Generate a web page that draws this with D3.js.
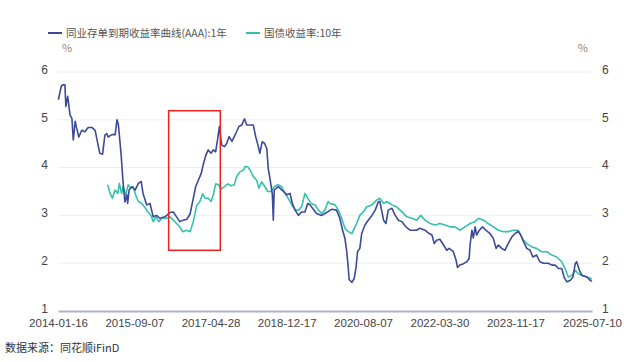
<!DOCTYPE html>
<html>
<head>
<meta charset="utf-8">
<script src="https://cdn.jsdelivr.net/npm/d3@7"></script>
<style>
  body { margin: 0; background: #fff; }
  svg { display: block; font-family: "Noto Sans CJK SC", "Noto Sans", sans-serif; }
  .grid line { stroke: #eceef6; }
  .tick text { fill: #444; font-size: 12px; }
</style>
</head>
<body>
<script>
// series names
var seriesNames = ["同业存单到期收益率曲线(AAA):1年", "国债收益率:10年"];

// x tick labels
var xTickLabels = ["2014-01-16", "2015-09-07", "2017-04-28", "2018-12-17",
                   "2020-08-07", "2022-03-30", "2023-11-17", "2025-07-10"];
var yTicks = [1, 2, 3, 4, 5, 6];

// NCD 1Y AAA, [decimal year, %]
var ncdData = [
  [2014.05,5.42],[2014.11,5.70],[2014.14,5.73],[2014.19,5.73],[2014.21,5.28],[2014.25,5.49],
  [2014.30,5.10],[2014.34,5.03],[2014.37,4.58],[2014.41,4.97],[2014.44,4.83],[2014.49,4.64],
  [2014.55,4.78],[2014.62,4.75],[2014.69,4.84],[2014.77,4.84],[2014.84,4.78],[2014.89,4.54],
  [2014.94,4.30],[2015.00,4.28],[2015.05,4.68],[2015.09,4.71],[2015.12,4.64],[2015.20,4.69],
  [2015.27,4.69],[2015.31,5.00],[2015.34,4.90],[2015.40,4.26],[2015.44,3.70],[2015.48,3.28],
  [2015.52,3.43],[2015.54,3.25],[2015.57,3.53],[2015.63,3.60],[2015.70,3.53],[2015.77,3.67],
  [2015.83,3.71],[2015.87,3.46],[2015.95,3.22],[2016.02,3.25],[2016.09,2.97],[2016.16,3.00],
  [2016.23,2.94],[2016.34,2.97],[2016.45,3.06],[2016.52,3.07],[2016.59,2.97],[2016.66,2.87],
  [2016.73,2.90],[2016.81,2.92],[2016.88,3.03],[2016.92,3.22],[2017.00,3.60],[2017.06,3.74],
  [2017.12,3.88],[2017.17,4.09],[2017.22,4.26],[2017.27,4.37],[2017.33,4.30],[2017.38,4.37],
  [2017.43,4.33],[2017.47,4.58],[2017.51,4.86],[2017.56,4.47],[2017.62,4.44],[2017.67,4.51],
  [2017.72,4.65],[2017.78,4.55],[2017.83,4.65],[2017.88,4.75],[2017.93,4.86],[2017.99,4.89],
  [2018.05,5.02],[2018.10,4.89],[2018.17,4.89],[2018.24,4.89],[2018.29,4.65],[2018.34,4.47],
  [2018.38,4.30],[2018.43,4.54],[2018.48,4.51],[2018.53,4.40],[2018.56,3.99],[2018.62,3.64],
  [2018.65,3.43],[2018.67,2.90],[2018.69,3.53],[2018.77,3.60],[2018.81,3.57],[2018.89,3.50],
  [2018.96,3.43],[2019.03,3.46],[2019.08,3.25],[2019.14,3.11],[2019.21,3.00],[2019.28,3.07],
  [2019.35,3.07],[2019.41,3.25],[2019.46,3.22],[2019.53,3.13],[2019.60,3.04],[2019.71,3.00],
  [2019.78,3.04],[2019.85,3.08],[2019.93,3.13],[2020.03,3.11],[2020.10,2.94],[2020.16,2.69],
  [2020.21,2.52],[2020.25,2.24],[2020.28,1.92],[2020.30,1.66],[2020.36,1.60],[2020.41,1.68],
  [2020.45,1.92],[2020.48,2.24],[2020.53,2.31],[2020.57,2.62],[2020.64,2.80],[2020.71,2.90],
  [2020.79,3.00],[2020.86,3.11],[2020.93,3.29],[2020.96,3.29],[2021.04,2.90],[2021.09,2.83],
  [2021.14,3.11],[2021.22,3.15],[2021.29,3.00],[2021.36,2.90],[2021.43,2.87],[2021.52,2.76],
  [2021.61,2.69],[2021.75,2.69],[2021.82,2.73],[2021.93,2.69],[2022.02,2.62],[2022.08,2.59],
  [2022.13,2.41],[2022.18,2.48],[2022.25,2.50],[2022.33,2.38],[2022.40,2.27],[2022.45,2.31],
  [2022.54,2.24],[2022.60,2.06],[2022.63,1.91],[2022.68,1.96],[2022.76,1.99],[2022.83,2.03],
  [2022.88,2.10],[2022.90,2.38],[2022.94,2.69],[2022.97,2.53],[2023.01,2.76],[2023.04,2.59],
  [2023.10,2.69],[2023.17,2.76],[2023.24,2.69],[2023.33,2.62],[2023.40,2.52],[2023.46,2.31],
  [2023.51,2.38],[2023.58,2.31],[2023.65,2.27],[2023.72,2.41],[2023.80,2.55],[2023.87,2.62],
  [2023.94,2.67],[2023.99,2.59],[2024.05,2.45],[2024.12,2.31],[2024.19,2.27],[2024.25,2.13],
  [2024.33,2.17],[2024.40,2.03],[2024.48,2.00],[2024.58,2.00],[2024.66,1.96],[2024.73,1.96],
  [2024.80,1.89],[2024.87,1.89],[2024.92,1.71],[2024.98,1.61],[2025.05,1.64],[2025.11,1.71],
  [2025.16,1.99],[2025.19,2.03],[2025.25,1.85],[2025.30,1.75],[2025.41,1.71],[2025.48,1.64],
  [2025.52,1.62]
];

// CGB 10Y, [decimal year, %]
var cgbData = [
  [2015.11,3.64],[2015.16,3.46],[2015.21,3.36],[2015.27,3.53],[2015.33,3.46],[2015.36,3.67],
  [2015.41,3.46],[2015.44,3.60],[2015.50,3.43],[2015.55,3.64],[2015.61,3.57],[2015.66,3.60],
  [2015.71,3.43],[2015.77,3.29],[2015.84,3.25],[2015.90,3.18],[2015.97,3.08],[2016.04,3.00],
  [2016.09,2.87],[2016.15,2.97],[2016.21,2.87],[2016.28,2.94],[2016.38,2.94],[2016.45,2.97],
  [2016.52,2.90],[2016.59,2.83],[2016.66,2.76],[2016.72,2.66],[2016.81,2.69],[2016.88,2.66],
  [2016.95,2.87],[2017.02,3.20],[2017.09,3.29],[2017.15,3.45],[2017.20,3.36],[2017.27,3.36],
  [2017.33,3.29],[2017.38,3.43],[2017.43,3.66],[2017.49,3.64],[2017.55,3.55],[2017.62,3.60],
  [2017.69,3.66],[2017.76,3.62],[2017.83,3.64],[2017.88,3.81],[2017.95,3.91],[2018.03,3.95],
  [2018.06,4.02],[2018.12,4.02],[2018.17,3.95],[2018.24,3.81],[2018.31,3.74],[2018.36,3.57],
  [2018.42,3.70],[2018.49,3.60],[2018.55,3.50],[2018.62,3.50],[2018.69,3.60],[2018.77,3.64],
  [2018.85,3.60],[2018.92,3.46],[2018.99,3.36],[2019.07,3.22],[2019.14,3.11],[2019.21,3.11],
  [2019.28,3.18],[2019.35,3.46],[2019.41,3.36],[2019.48,3.25],[2019.57,3.22],[2019.64,3.11],
  [2019.71,3.04],[2019.78,3.11],[2019.85,3.29],[2019.89,3.25],[2020.00,3.22],[2020.07,3.11],
  [2020.14,2.94],[2020.21,2.73],[2020.28,2.66],[2020.36,2.62],[2020.41,2.73],[2020.46,2.83],
  [2020.53,3.00],[2020.61,3.08],[2020.68,3.18],[2020.79,3.22],[2020.89,3.32],[2020.96,3.36],
  [2021.04,3.25],[2021.11,3.29],[2021.22,3.22],[2021.32,3.18],[2021.43,3.08],[2021.54,2.97],
  [2021.65,2.94],[2021.75,2.90],[2021.84,3.00],[2021.93,2.90],[2022.04,2.83],[2022.15,2.80],
  [2022.25,2.83],[2022.36,2.80],[2022.47,2.76],[2022.58,2.76],[2022.68,2.69],[2022.79,2.76],
  [2022.90,2.83],[2023.01,2.87],[2023.08,2.94],[2023.19,2.90],[2023.29,2.83],[2023.40,2.76],
  [2023.51,2.69],[2023.62,2.66],[2023.72,2.66],[2023.83,2.69],[2023.92,2.69],[2023.97,2.62],
  [2024.05,2.48],[2024.12,2.41],[2024.23,2.34],[2024.33,2.31],[2024.44,2.24],[2024.55,2.24],
  [2024.66,2.17],[2024.76,2.13],[2024.87,2.03],[2024.94,1.89],[2025.01,1.71],[2025.09,1.75],
  [2025.16,1.85],[2025.23,1.78],[2025.30,1.75],[2025.41,1.71],[2025.48,1.69],[2025.52,1.66]
];

// highlighted window: [start year, end year], [low %, high %]
var boxYears = [2016.42, 2017.53];
var boxValues = [2.27, 5.19];

var colors = ["#3d4a97", "#35c1ab"];

var width = 640, height = 362;
var margin = {top: 72, right: 48, bottom: 51, left: 58};
var innerW = width - margin.left - margin.right,
    innerH = height - margin.top - margin.bottom;

function yearToDate(y){
    var yr = Math.floor(y);
    var start = new Date(yr, 0, 1), end = new Date(yr + 1, 0, 1);
    return new Date(start.getTime() + (y - yr) * (end - start));
}

var parse = d3.timeParse("%Y-%m-%d");
var tickDates = xTickLabels.map(parse);

var svg = d3.select("body").append("svg")
    .attr("width", width)
    .attr("height", height);

var g = svg.append("g")
    .attr("transform", "translate(" + margin.left + "," + margin.top + ")");

var x = d3.scaleTime()
    .domain([tickDates[0], tickDates[tickDates.length - 1]])
    .range([0, innerW]);
var y = d3.scaleLinear()
    .domain([1, 6])
    .range([innerH, 0]);

//gridlines
g.append("g").attr("class", "grid")
    .selectAll("line")
    .data(yTicks.slice(1))
    .enter().append("line")
    .attr("x1", 0).attr("x2", innerW)
    .attr("y1", function(d){ return y(d); })
    .attr("y2", function(d){ return y(d); });

//left axis
var yLeft = g.append("g")
    .call(d3.axisLeft(y).tickValues(yTicks).tickSize(0).tickPadding(10).tickFormat(d3.format("d")));
yLeft.select(".domain").remove();
yLeft.selectAll(".tick text").attr("dy", "0.1em");

//right axis
var yRight = g.append("g")
    .attr("transform", "translate(" + innerW + ",0)")
    .call(d3.axisRight(y).tickValues(yTicks).tickSize(0).tickPadding(10).tickFormat(d3.format("d")));
yRight.select(".domain").remove();
yRight.selectAll(".tick text").attr("dy", "0.1em");

//bottom axis
var xAxis = g.append("g")
    .attr("transform", "translate(0," + innerH + ")")
    .call(d3.axisBottom(x).tickValues(tickDates).tickSize(0).tickPadding(8)
        .tickFormat(d3.timeFormat("%Y-%m-%d")));
xAxis.select(".domain").attr("stroke", "#adb2c9").attr("stroke-width", 2);
xAxis.selectAll(".tick text").style("font-size", "11.5px");

//unit labels
g.append("text").attr("x", 4).attr("y", -20)
    .attr("fill", "#888").style("font-size", "11px").text("%");
g.append("text").attr("x", innerW - 4).attr("y", -20).attr("text-anchor", "end")
    .attr("fill", "#888").style("font-size", "11px").text("%");

//lines
var line = d3.line()
    .x(function(d){ return x(yearToDate(d[0])); })
    .y(function(d){ return y(d[1]); });

g.append("path").datum(cgbData)
    .attr("fill", "none").attr("stroke", colors[1]).attr("stroke-width", 1.6)
    .attr("stroke-linejoin", "round")
    .attr("d", line);

g.append("path").datum(ncdData)
    .attr("fill", "none").attr("stroke", colors[0]).attr("stroke-width", 1.6)
    .attr("stroke-linejoin", "round")
    .attr("d", line);

//red highlight box
g.append("rect")
    .attr("x", x(yearToDate(boxYears[0])))
    .attr("y", y(boxValues[1]))
    .attr("width", x(yearToDate(boxYears[1])) - x(yearToDate(boxYears[0])))
    .attr("height", y(boxValues[0]) - y(boxValues[1]))
    .attr("fill", "none").attr("stroke", "#f0201c").attr("stroke-width", 1.5);

//legend
var legendX = [48, 246];
var legend = svg.selectAll(".legend")
    .data(seriesNames)
    .enter().append("g")
    .attr("class", "legend")
    .attr("transform", function(d, i){ return "translate(" + legendX[i] + ",33)"; });
legend.append("line")
    .attr("x1", 0).attr("x2", 14)
    .attr("stroke", function(d, i){ return colors[i]; })
    .attr("stroke-width", 2);
legend.append("text")
    .attr("x", 18).attr("dy", "0.35em")
    .attr("fill", "#555").style("font-size", "10.5px")
    .text(function(d){ return d; });

//source
svg.append("text").attr("x", 5).attr("y", 352)
    .attr("fill", "#333").style("font-size", "11px")
    .text("数据来源：同花顺iFinD");
</script>
</body>
</html>
